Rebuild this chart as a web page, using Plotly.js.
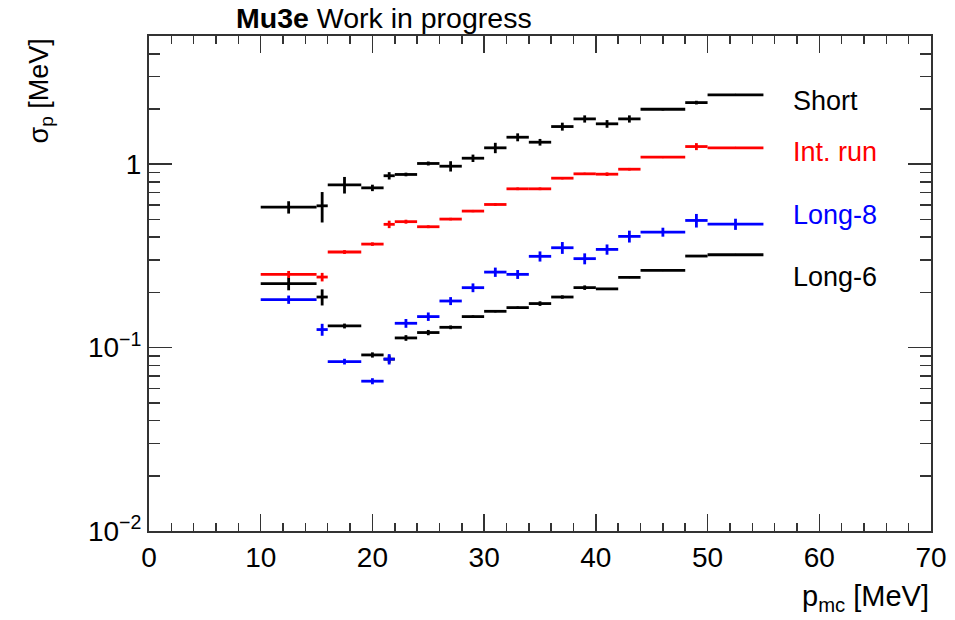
<!DOCTYPE html>
<html>
<head>
<meta charset="utf-8">
<script src="https://cdn.plot.ly/plotly-3.0.1.min.js"></script>
<style>html,body{margin:0;padding:0;background:#fff}#chart{width:955px;height:620px}</style>
</head>
<body>
<div id="chart"></div>
<script>
// bin centres and half widths of p_mc [MeV]
const pCenter    = [12.5, 15.5, 17.5, 20, 21.5, 23, 25, 27, 29, 31, 33, 35, 37, 39, 41, 43, 46, 49, 52.5];
const pHalfWidth = [2.5, 0.5, 1.5, 1, 0.5, 1, 1, 1, 1, 1, 1, 1, 1, 1, 1, 1, 2, 1, 2.5];

// sigma_p [MeV] per configuration and its uncertainty
const shortVal  = [0.583, 0.593, 0.772, 0.743, 0.865, 0.879, 1.009, 0.975, 1.078, 1.228, 1.403, 1.318, 1.604, 1.766, 1.66, 1.766, 1.993, 2.167, 2.388];
const shortErr  = [0.045, 0.112, 0.080, 0.030, 0.040, 0.020, 0.025, 0.063, 0.050, 0.080, 0.070, 0.055, 0.080, 0.080, 0.080, 0.080, 0.030, 0.050, 0.010];

const intVal    = [0.2508, 0.2425, 0.332, 0.3667, 0.470, 0.486, 0.456, 0.502, 0.555, 0.603, 0.734, 0.734, 0.839, 0.886, 0.882, 0.939, 1.092, 1.248, 1.228];
const intErr    = [0.011, 0.013, 0.008, 0.008, 0.022, 0.012, 0.008, 0.008, 0.008, 0.010, 0.012, 0.012, 0.012, 0.012, 0.020, 0.015, 0.012, 0.055, 0.012];

const long8Val  = [0.1827, 0.1254, 0.0839, 0.0656, 0.0865, 0.1357, 0.1476, 0.1795, 0.2122, 0.258, 0.2508, 0.3145, 0.3503, 0.3055, 0.343, 0.404, 0.4265, 0.4935, 0.4713];
const long8Err  = [0.0095, 0.0094, 0.003, 0.0025, 0.0056, 0.0075, 0.0078, 0.009, 0.0117, 0.015, 0.014, 0.020, 0.026, 0.021, 0.022, 0.030, 0.024, 0.042, 0.033];

const long6Val  = [0.2233, 0.1887, 0.1312, 0.0912, 0.0865, 0.1129, 0.1208, 0.129, 0.1476, 0.1577, 0.1652, 0.1738, 0.1887, 0.2123, 0.209, 0.2415, 0.2638, 0.3156, 0.3209];
const long6Err  = [0.018, 0.019, 0.004, 0.003, 0.004, 0.004, 0.004, 0.003, 0.002, 0.002, 0.002, 0.005, 0.004, 0.006, 0.001, 0.001, 0.001, 0.003, 0.001];

const seriesNames = ['Short', 'Int. run', 'Long-8', 'Long-6'];
const seriesColors = ['#000000', '#ff0000', '#0000ff', '#000000'];

const yTickVals = [0.01, 0.1, 1];
const yTickText = ['10<sup>\u22122</sup>', '10<sup>\u22121</sup>', '1'];

const FONT = 'Liberation Sans, Arial, Helvetica, sans-serif';

function trace(vals, errs, color, name) {
  return {
    type: 'scatter', mode: 'markers', name: name,
    x: pCenter, y: vals,
    marker: {size: 2, color: color},
    error_x: {type: 'data', array: pHalfWidth, symmetric: true, width: 0, thickness: 2.8, color: color},
    error_y: {type: 'data', array: errs, symmetric: true, width: 0, thickness: 2.8, color: color},
    showlegend: false, hoverinfo: 'x+y'
  };
}

const data = [
  trace(long6Val, long6Err, seriesColors[3], seriesNames[3]),
  trace(shortVal, shortErr, seriesColors[0], seriesNames[0]),
  trace(intVal, intErr, seriesColors[1], seriesNames[1]),
  trace(long8Val, long8Err, seriesColors[2], seriesNames[2])
];

// minor log ticks 2..9 per decade
const yMinor = [];
[0.01, 0.1, 1].forEach(d => { for (let k = 2; k <= 9; k++) { if (k * d < 5) yMinor.push(k * d); } });

const labelY = [0.869, 0.766, 0.638, 0.5125];

const layout = {
  width: 955, height: 620,
  margin: {l: 149, r: 24, t: 36, b: 89},
  paper_bgcolor: '#fff', plot_bgcolor: '#fff',
  font: {family: FONT, size: 27, color: '#000'},
  title: {
    text: '<b>Mu3e</b> Work in progress',
    font: {family: FONT, size: 28.5, color: '#000'},
    x: 236 / 955, xanchor: 'left', xref: 'container',
    y: 1 - 18 / 620, yanchor: 'middle', yref: 'container'
  },
  xaxis: {
    range: [0, 70], showgrid: false, zeroline: false,
    showline: true, linecolor: '#333', linewidth: 2, mirror: 'ticks',
    ticks: 'inside', ticklen: 17, tickwidth: 1.5, tickcolor: '#333',
    tickmode: 'linear', tick0: 0, dtick: 10,
    minor: {ticks: 'inside', dtick: 2, ticklen: 8, tickwidth: 1.5, tickcolor: '#333', showgrid: false},
    tickfont: {family: FONT, size: 28, color: '#000'}
  },
  yaxis: {
    type: 'log', range: [-2, Math.log10(5)], showgrid: false, zeroline: false,
    showline: true, linecolor: '#333', linewidth: 2, mirror: 'ticks',
    ticks: 'inside', ticklen: 23, tickwidth: 1.5, tickcolor: '#333',
    tickmode: 'array', tickvals: yTickVals, ticktext: yTickText,
    minor: {ticks: 'inside', tickmode: 'array', tickvals: yMinor, ticklen: 11, tickwidth: 1.5, tickcolor: '#333', showgrid: false},
    tickfont: {family: FONT, size: 28, color: '#000'}
  },
  annotations: [
    {text: 'σ<sub>p</sub> [MeV]', textangle: -90, xref: 'paper', yref: 'paper',
     x: (40 - 149) / 782, y: 1, xanchor: 'center', yanchor: 'top', showarrow: false,
     font: {family: FONT, size: 27, color: '#000'}},
    {text: 'p<sub>mc</sub> [MeV]', xref: 'paper', yref: 'paper',
     x: 1, y: (531 - 598) / 495, xanchor: 'right', yanchor: 'middle', showarrow: false,
     font: {family: FONT, size: 29, color: '#000'}}
  ].concat(seriesNames.map((n, i) => ({
    text: n, xref: 'paper', yref: 'paper', x: (791 - 149) / 782, y: labelY[i],
    xanchor: 'left', yanchor: 'middle', showarrow: false,
    font: {family: FONT, size: 27, color: seriesColors[i]}
  })))
};

Plotly.newPlot('chart', data, layout, {displayModeBar: false, staticPlot: true});
</script>
</body>
</html>
